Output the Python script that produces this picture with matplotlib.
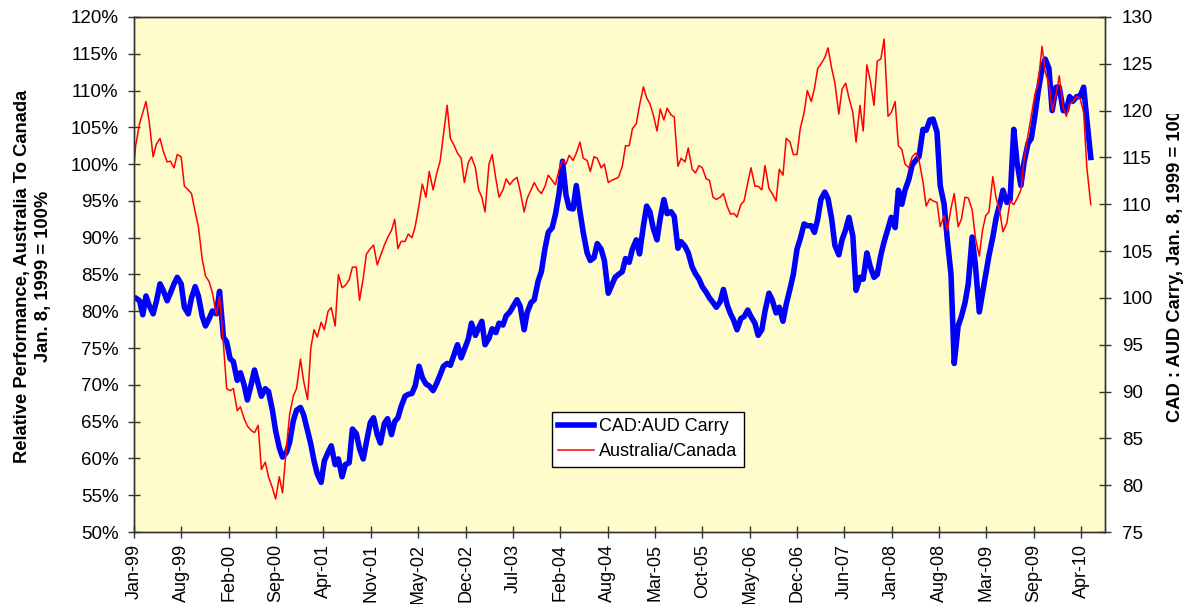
import pandas as pd
import matplotlib
matplotlib.use('Agg')
import matplotlib.pyplot as plt
import matplotlib.dates as mdates
from matplotlib.ticker import MultipleLocator, FuncFormatter
from matplotlib.transforms import Bbox, TransformedBbox

plt.rcParams['font.family'] = ['Liberation Sans', 'DejaVu Sans']

# semi-monthly readings, Jan 8 1999 .. Jun 1 2010
start = pd.Timestamp('1999-01-08')
dates = [start] + list(pd.date_range('1999-01-15', '2010-06-01', freq='SMS'))

# Australia/Canada relative performance, % (left axis)
red_vals = [
    100, 102.5, 105.5, 107, 108.5, 105.8, 101, 102.7, 103.5, 101.8, 100.3, 100.4,
    99.5, 101.3, 101, 97, 96.5, 96, 93.5, 91.5, 87, 84.8, 84, 82.5,
    79.5, 82, 75.5, 69.5, 69.2, 69.5, 66.5, 67, 65.4, 64.4, 63.8, 63.5,
    64.5, 58.5, 59.5, 57.5, 56, 54.5, 57.5, 55.3, 61.5, 66, 68.5, 69.5,
    73.5, 70.5, 68, 75, 77.5, 76.5, 78.5, 77.5, 80, 80.5, 78, 85,
    83.2, 83.5, 84.3, 86, 86, 81.5, 84.5, 87.8, 88.5, 89, 86.3, 87.5,
    89, 90, 91, 92.5, 88.5, 89.5, 89.5, 90.5, 90, 91.5, 94.5, 97.3,
    95.5, 99, 96.5, 98.5, 100.5, 104, 108, 103.5, 102.5, 101.5, 100.8, 97.5,
    100.2, 101, 99.5, 96.5, 95.5, 93.5, 100, 101.3, 98, 95.5, 96.5, 98,
    97.2, 97.8, 98.2, 96.3, 93.5, 95.4, 96.5, 97.5, 96.5, 96, 97, 98.5,
    97.8, 97.2, 99.3, 100.5, 100, 101.2, 100.5, 101.5, 103, 100.8, 100.5, 99,
    101, 100.8, 99.5, 100, 97.5, 97.8, 98, 98.2, 99.7, 102.5, 102.5, 104.8,
    105.5, 108, 110.5, 109, 108.2, 106.8, 104.5, 107.5, 106, 107.6, 106.7, 106.4,
    99.7, 100.8, 100.3, 102.2, 99.3, 98.8, 99.8, 99.5, 98, 97.8, 95.5, 95.2,
    95.5, 96, 94.2, 93.2, 93.3, 92.8, 94.5, 95, 97.5, 99.5, 97, 97,
    96.5, 99.8, 96.7, 96, 95, 99.3, 98.5, 103.5, 103, 101.3, 101.3, 104.8,
    107, 110, 108.5, 110.3, 113, 113.6, 114.5, 115.8, 113, 111, 106.8, 110.2,
    111, 109, 107, 103, 108, 104.5, 113.5, 111.5, 108, 114, 114.3, 117,
    106.5, 107, 108.5, 102.5, 102, 100, 99.5, 101, 101.5, 100.5, 97.6, 94.3,
    95.3, 95, 94.8, 91.5, 93, 91, 94, 96, 91.5, 92.5, 95.5, 95.4,
    93.8, 90, 87.5, 91, 93, 93.5, 98.3, 95.4, 93.6, 90.8, 92, 95,
    94.5, 95.3, 96.5, 100.7, 104, 106.5, 109.5, 111, 116, 112.5, 111, 107.3,
    109.5, 112, 107.7, 106.5, 108.2, 108.5, 109.2, 109, 107, 99.5, 94.5,
]

# CAD:AUD carry index (right axis)
blue_vals = [
    100, 100, 99.7, 98.2, 100.2, 99.2, 98.3, 99.6, 101.5, 100.8, 99.7, 100.5,
    101.5, 102.2, 101.5, 99, 98.3, 100, 101.2, 100.2, 98, 97, 97.8, 98.6,
    98.3, 100.7, 95.8, 95.3, 93.5, 93.2, 91.2, 92, 90.7, 89.1, 90.8, 92.3,
    90.8, 89.5, 90.3, 90, 88, 85.8, 84, 83, 83.5, 84.6, 86.9, 88,
    88.3, 87.5, 85.8, 84.4, 82.6, 81.2, 80.3, 82.6, 83.5, 84.2, 82.2, 82.8,
    80.9, 82.2, 82.4, 86, 85.5, 83.9, 82.8, 84.6, 86.7, 87.2, 85.4, 84.5,
    86.6, 87.1, 85.4, 86.8, 87.2, 88.4, 89.5, 89.7, 89.8, 90.6, 92.7, 91.5,
    90.8, 90.6, 90.1, 90.8, 91.8, 92.7, 93, 92.8, 94, 95, 93.6, 94.5,
    95.6, 97.3, 96, 96.8, 97.5, 95, 95.7, 96.7, 96.3, 97.3, 97.1, 98.1,
    98.5, 99.1, 99.8, 99.1, 96.6, 98.5, 99.5, 99.8, 101.8, 102.8, 105.3, 107,
    107.5, 108.9, 111.3, 114.6, 111, 109.6, 109.5, 112, 109.2, 107, 104.8, 104,
    104.3, 105.8, 105.2, 104, 100.5, 101.3, 102.2, 102.5, 102.8, 104.2, 103.8, 105.2,
    106.2, 104.7, 107.7, 109.8, 109.2, 107.5, 106.2, 108.5, 110.5, 109, 109.2, 108.7,
    105.3, 106, 105.5, 104.8, 103.3, 102.6, 102, 101.2, 100.6, 100, 99.5, 99,
    99.6, 100.9, 99.2, 98.3, 97.6, 96.6, 97.8, 98, 98.7, 98, 97.3, 96,
    96.6, 98.6, 100.5, 99.8, 98.4, 99, 97.5, 99.3, 101, 102.5, 105.2, 106.3,
    107.9, 107.7, 107.7, 107, 108.4, 110.5, 111.3, 110.6, 108.4, 105.6, 104.6, 106.2,
    107.3, 108.6, 106.6, 100.8, 102.2, 102, 104.8, 103.4, 102.2, 102.5, 104.6, 106,
    107.4, 108.6, 107.5, 111.5, 110, 111.5, 112.7, 114.2, 114.7, 115.1, 118, 117.9,
    119, 119.1, 117.7, 112, 110, 106.2, 102.5, 93, 97, 98, 99.5, 101.5,
    106.5, 103.5, 98.5, 100.5, 102.5, 104.5, 106.5, 108.5, 110, 111.5, 110.2, 110.5,
    118, 114.5, 112, 114.5, 116.5, 117, 119.5, 122, 124.5, 125.5, 124.5, 120,
    122.5, 122.5, 120, 120, 121.5, 121, 121.5, 121.5, 122.5, 119, 115,
]

# date axis ticks every 206 days from the base date
tick_dates = [start + pd.Timedelta(days=206 * k) for k in range(21)]
x_end = start + pd.Timedelta(days=4224)

fig = plt.figure(figsize=(11.84, 6.04), dpi=100)
ax = fig.add_axes([0.1132, 0.1192, 0.8201, 0.8527])
ax2 = ax.twinx()

# red drawn on top of the blue carry line
ax.set_zorder(2)
ax2.set_zorder(1)
ax.patch.set_visible(False)
ax2.patch.set_visible(True)
ax2.patch.set_facecolor('#FFFCCC')

l_blue, = ax2.plot(dates, blue_vals, color='#0000FF', lw=4, solid_joinstyle='round',
                   label='CAD:AUD Carry')
l_red, = ax.plot(dates, red_vals, color='#FF0000', lw=1.1, label='Australia/Canada')

ax.set_xlim(start, x_end)
ax.set_ylim(50, 120)
ax2.set_ylim(75, 130)
ax.yaxis.set_major_locator(MultipleLocator(5))
ax.yaxis.set_major_formatter(FuncFormatter(lambda v, p: '%d%%' % v))
ax2.yaxis.set_major_locator(MultipleLocator(5))

ax.set_xticks(tick_dates)
ax.xaxis.set_major_formatter(mdates.DateFormatter('%b-%y'))

for a in (ax, ax2):
    for s in a.spines.values():
        s.set_color('#333333')
        s.set_linewidth(1)
ax.tick_params(axis='x', direction='inout', length=8.5, width=1, color='#333333',
               labelsize=13, labelrotation=90, pad=4.5)
ax.tick_params(axis='y', direction='inout', length=8.5, width=1, color='#333333',
               labelsize=13.5, pad=7)
ax2.tick_params(axis='y', direction='inout', length=8.5, width=1, color='#333333',
                labelsize=13.5, pad=8)

fig.text(33 / 1184, 1 - 276 / 604,
         'Relative Performance, Australia To Canada\nJan. 8, 1999 = 100%',
         rotation=90, ha='center', va='center', multialignment='center',
         fontsize=13.2, fontweight='bold', linespacing=1.3)

rt = fig.text(1176 / 1184, 1 - 422 / 604, 'CAD : AUD Carry, Jan. 8, 1999 = 100',
              rotation=90, ha='center', va='bottom', fontsize=13.2, fontweight='bold')
rt.set_clip_on(True)
rt.set_clip_box(TransformedBbox(Bbox([[0.95, 0.0], [1.0, 1 - 114 / 604]]), fig.transFigure))

leg = ax.legend(handles=[l_blue, l_red], loc='upper left',
                bbox_to_anchor=(0.4305, 0.233), borderaxespad=0, fontsize=13,
                frameon=True, fancybox=False, framealpha=1, edgecolor='#000000',
                handlelength=1.95, handletextpad=0.3, labelspacing=0.45,
                borderpad=0.35)
leg.get_frame().set_linewidth(1)

fig.savefig('out.png', dpi=100)
